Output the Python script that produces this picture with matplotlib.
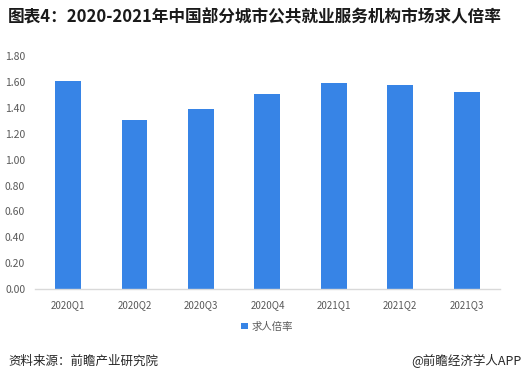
import numpy as np
import matplotlib.pyplot as plt

plt.rcParams['font.family'] = ['Noto Sans CJK SC', 'DejaVu Sans']

# data
quarters = ['2020Q1', '2020Q2', '2020Q3', '2020Q4', '2021Q1', '2021Q2', '2021Q3']
ratio = [1.61, 1.31, 1.39, 1.51, 1.59, 1.58, 1.52]
yticks = [0.0, 0.2, 0.4, 0.6, 0.8, 1.0, 1.2, 1.4, 1.6, 1.8]

bar_color = '#3784e6'
text_gray = '#595959'

fig = plt.figure(figsize=(5.28, 3.82), dpi=100)
ax = fig.add_axes([0.066, 0.2435, 0.881, 0.6095])

x = np.arange(len(quarters))
ax.bar(x, ratio, width=0.39, color=bar_color, label='求人倍率', zorder=2)

ax.set_xlim(-0.5, len(quarters) - 0.5)
ax.set_ylim(0, 1.8)
ax.set_yticks(yticks)
ax.set_yticklabels(['%.2f' % v for v in yticks])
ax.set_xticks(x)
ax.set_xticklabels(quarters)

for s in ['top', 'right', 'left']:
    ax.spines[s].set_visible(False)
ax.spines['bottom'].set_color('#d9d9d9')
ax.spines['bottom'].set_linewidth(1.0)
ax.tick_params(axis='both', length=0, labelsize=7, colors=text_gray)
ax.tick_params(axis='x', pad=8)
ax.tick_params(axis='y', labelsize=7.5, pad=7)

ax.legend(loc='upper center', bbox_to_anchor=(0.5, -0.1), frameon=False,
          fontsize=7.5, handlelength=0.6, handleheight=0.6, handletextpad=0.4,
          labelcolor=text_gray)

fig.text(0.015, 0.955, '图表4：2020-2021年中国部分城市公共就业服务机构市场求人倍率',
         fontsize=12, fontweight='bold', color='#1a1a1a', va='center', ha='left')
fig.text(0.015, 0.055, '资料来源：前瞻产业研究院', fontsize=9, color='#262626',
         va='center', ha='left')
fig.text(0.988, 0.055, '@前瞻经济学人APP', fontsize=9, color='#262626',
         va='center', ha='right')

fig.savefig('out.png', dpi=100)
